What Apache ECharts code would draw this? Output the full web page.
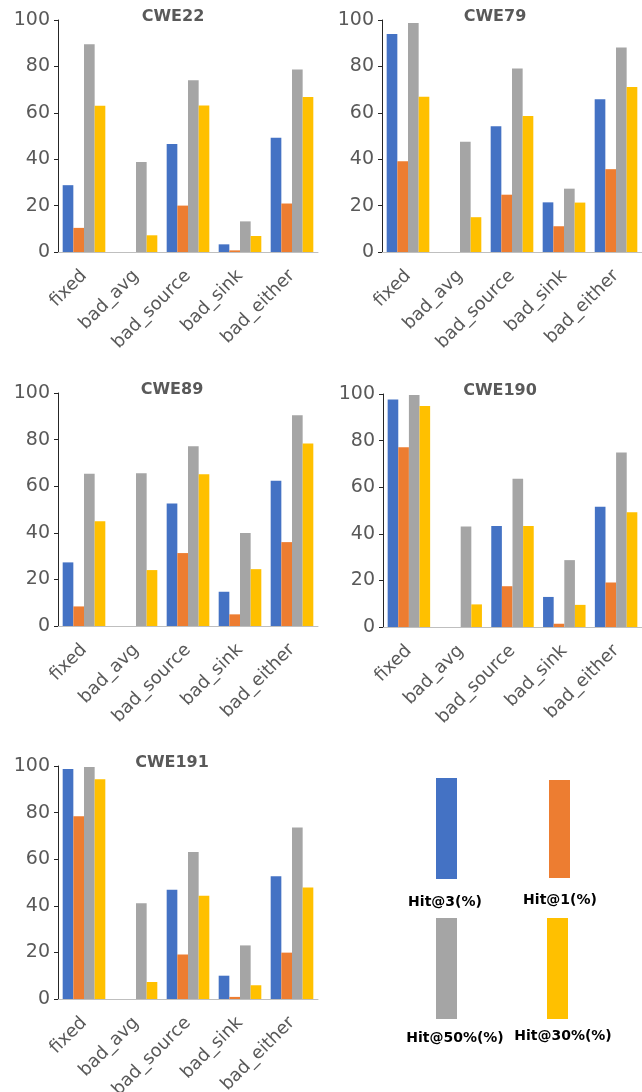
<!DOCTYPE html>
<html>
<head>
<meta charset="utf-8">
<style>
  html, body { margin: 0; padding: 0; background: #fff; }
  #chart { width: 642px; height: 1092px; }
</style>
<script src="https://cdn.jsdelivr.net/npm/echarts/dist/echarts.min.js"></script>
</head>
<body>
<div id="chart"></div>
<script>
// 数据
const categories = ['fixed', 'bad_avg', 'bad_source', 'bad_sink', 'bad_either'];
const panelTitles = ['CWE22', 'CWE79', 'CWE89', 'CWE190', 'CWE191'];
const seriesNames = ['Hit@3(%)', 'Hit@1(%)', 'Hit@50%(%)', 'Hit@30%(%)'];
const seriesColors = ['#4472C4', '#ED7D31', '#A5A5A5', '#FFC000'];

// 每个面板一行
const hit3 = [
    [28.8, 0, 46.6, 3.3, 49.2],
    [94.0, 0, 54.2, 21.4, 65.8],
    [27.3, 0, 52.6, 14.7, 62.3],
    [97.6, 0, 43.4, 12.9, 51.6],
    [98.7, 0, 46.9, 10.0, 52.7]
];
const hit1 = [
    [10.4, 0, 20.0, 0.7, 20.9],
    [39.1, 0, 24.7, 11.1, 35.7],
    [8.4, 0, 31.3, 5.0, 36.0],
    [77.1, 0, 17.5, 1.4, 19.1],
    [78.4, 0, 19.1, 0.9, 19.9]
];
const hit50 = [
    [89.6, 38.8, 74.0, 13.2, 78.7],
    [98.7, 47.5, 79.1, 27.3, 88.1],
    [65.3, 65.6, 77.1, 39.9, 90.4],
    [99.6, 43.1, 63.6, 28.7, 74.9],
    [99.6, 41.1, 63.1, 23.0, 73.6]
];
const hit30 = [
    [63.0, 7.2, 63.2, 6.9, 66.8],
    [66.9, 15.0, 58.6, 21.3, 71.1],
    [45.0, 24.0, 65.1, 24.4, 78.3],
    [94.8, 9.7, 43.3, 9.5, 49.3],
    [94.3, 7.3, 44.3, 5.9, 47.9]
];
const yTicks = [0, 20, 40, 60, 80, 100];

// 布局
const grids = [
    { left: 58, top: 20, width: 260, height: 232, titleX: 168, titleY: 4 },
    { left: 382, top: 20, width: 260, height: 232, titleX: 490, titleY: 4 },
    { left: 58, top: 393, width: 260, height: 233, titleX: 167, titleY: 377 },
    { left: 383, top: 394, width: 259, height: 233, titleX: 495, titleY: 378 },
    { left: 58, top: 766, width: 260, height: 233, titleX: 167, titleY: 750 }
];

const textColor = '#595959';
const font = "'DejaVu Sans', 'Noto Sans', sans-serif";

const allSeries = [hit3, hit1, hit50, hit30];

const option = {
    animation: false,
    backgroundColor: '#fff',
    textStyle: { fontFamily: font },
    title: grids.map((g, i) => ({
        text: panelTitles[i],
        left: g.titleX,
        top: g.titleY,
        textAlign: 'center',
        textStyle: { fontSize: 16, fontWeight: 'bold', color: textColor, fontFamily: font }
    })),
    grid: grids.map(g => ({
        left: g.left, top: g.top, width: g.width, height: g.height,
        containLabel: false,
        outerBoundsMode: 'none' // 标签可以超出画布，与原图一致
    })),
    xAxis: grids.map((g, i) => ({
        type: 'category',
        gridIndex: i,
        data: categories,
        axisLine: { show: true, lineStyle: { color: '#BFBFBF', width: 1 } },
        axisTick: { show: false },
        axisLabel: {
            interval: 0,
            rotate: 45,
            fontSize: 18,
            color: textColor,
            margin: 21,
            fontFamily: font
        }
    })),
    yAxis: grids.map((g, i) => ({
        type: 'value',
        gridIndex: i,
        min: yTicks[0],
        max: yTicks[yTicks.length - 1],
        interval: yTicks[1] - yTicks[0],
        axisLine: { show: true, lineStyle: { color: '#262626', width: 1 } },
        axisTick: { show: true, length: 4, lineStyle: { color: '#262626' } },
        splitLine: { show: false },
        axisLabel: { fontSize: 19, color: textColor, margin: 8, fontFamily: font }
    })),
    series: []
};

grids.forEach((g, p) => {
    allSeries.forEach((s, k) => {
        option.series.push({
            name: seriesNames[k],
            type: 'bar',
            xAxisIndex: p,
            yAxisIndex: p,
            data: s[p],
            barGap: '0%',
            barCategoryGap: '18%',
            itemStyle: { color: seriesColors[k] }
        });
    });
});

// 图例（右下角的色块和文字）
const legendSpots = [
    { x: 436, y: 778, h: 101, tx: 445, ty: 902 },
    { x: 549, y: 780, h: 98, tx: 560, ty: 900 },
    { x: 436, y: 918, h: 101, tx: 455, ty: 1038 },
    { x: 547, y: 918, h: 101, tx: 563, ty: 1036 }
];
option.graphic = [];
legendSpots.forEach((l, k) => {
    option.graphic.push({
        type: 'rect',
        left: l.x,
        top: l.y,
        shape: { width: 21, height: l.h },
        style: { fill: seriesColors[k] }
    });
    option.graphic.push({
        type: 'text',
        x: l.tx,
        y: l.ty,
        style: {
            text: seriesNames[k],
            fill: '#000',
            font: 'bold 14px ' + font,
            textAlign: 'center',
            textVerticalAlign: 'middle'
        }
    });
});

const myChart = echarts.init(document.getElementById('chart'));
myChart.setOption(option);
</script>
</body>
</html>
